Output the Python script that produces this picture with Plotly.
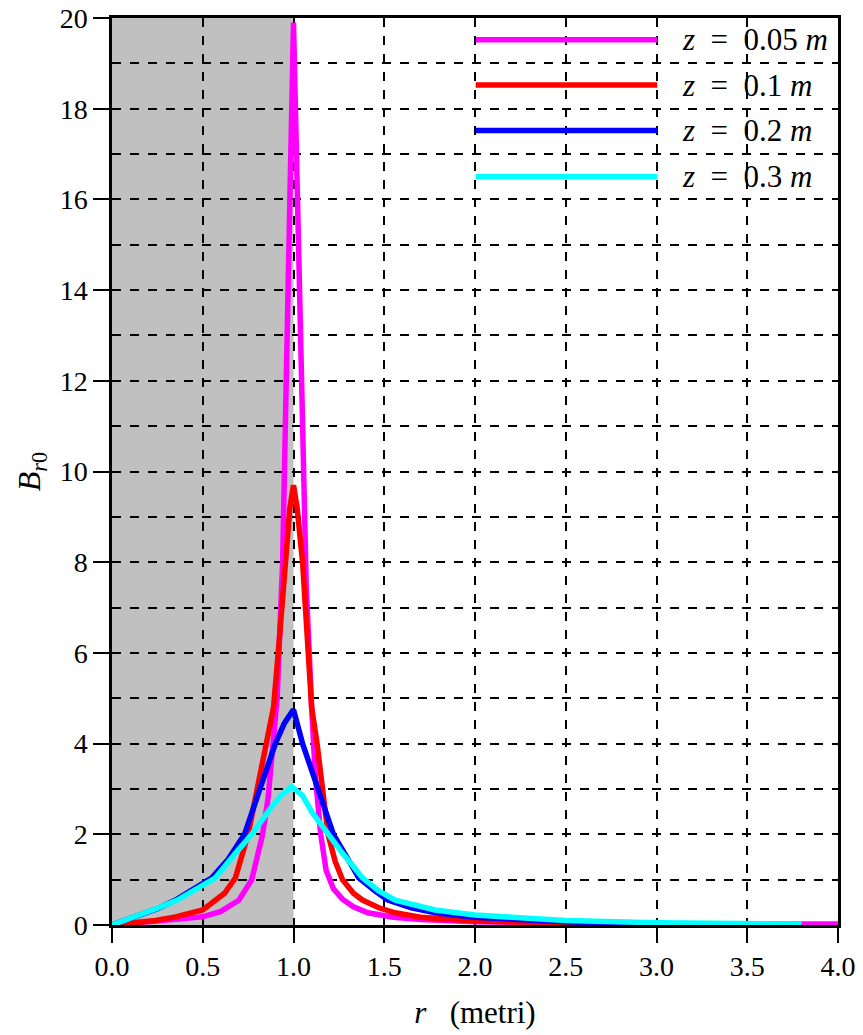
import plotly.graph_objects as go

# ---- data ----
r_m = [0, 0.1, 0.2, 0.3, 0.4, 0.5, 0.6, 0.7, 0.77, 0.83, 0.86, 0.88, 0.91, 0.94, 0.963, 0.98, 1.0,
       1.02, 1.04, 1.07, 1.10, 1.12, 1.15, 1.18, 1.22, 1.27, 1.33, 1.41, 1.55, 1.7, 2.0, 2.5, 3.0, 3.5, 4.0]
b_m = [0, 0.03, 0.06, 0.1, 0.13, 0.18, 0.3, 0.55, 1.0, 2.0, 2.8, 3.8, 5.0, 8.0, 12.0, 16.0, 19.9,
       16.0, 12.0, 7.5, 4.8, 3.3, 2.0, 1.2, 0.8, 0.57, 0.4, 0.27, 0.17, 0.12, 0.07, 0.04, 0.03, 0.02, 0.02]

r_r = [0, 0.1, 0.24, 0.35, 0.5, 0.62, 0.68, 0.75, 0.80, 0.855, 0.89, 0.92, 0.953, 0.98, 1.0,
       1.02, 1.05, 1.08, 1.10, 1.13, 1.16, 1.19, 1.23, 1.27, 1.33, 1.38, 1.47, 1.56, 1.7, 1.87, 2.0, 2.4, 2.8]
b_r = [0, 0.04, 0.1, 0.18, 0.33, 0.7, 1.04, 2.0, 3.0, 4.0, 4.8, 6.2, 8.0, 9.2, 9.7,
       9.2, 8.0, 6.0, 4.8, 4.0, 3.0, 2.0, 1.4, 1.0, 0.7, 0.55, 0.38, 0.27, 0.17, 0.12, 0.09, 0.05, 0.03]

r_b = [0, 0.13, 0.25, 0.35, 0.45, 0.55, 0.64, 0.73, 0.815, 0.9, 0.95, 1.0,
       1.05, 1.1, 1.135, 1.22, 1.3, 1.36, 1.45, 1.52, 1.65, 1.78, 2.0, 2.25, 2.5, 2.75, 3.05]
b_b = [0, 0.18, 0.36, 0.55, 0.78, 1.04, 1.45, 2.0, 3.0, 4.0, 4.45, 4.75,
       4.0, 3.4, 3.0, 2.0, 1.45, 1.04, 0.75, 0.55, 0.38, 0.27, 0.17, 0.11, 0.07, 0.05, 0.04]

r_c = [0, 0.13, 0.25, 0.36, 0.46, 0.57, 0.68, 0.77, 0.86, 0.93, 0.99,
       1.05, 1.10, 1.19, 1.27, 1.38, 1.47, 1.56, 1.78, 2.0, 2.25, 2.5, 3.0, 3.5, 3.8]
b_c = [0, 0.18, 0.37, 0.55, 0.78, 1.04, 1.58, 2.0, 2.5, 2.85, 3.05,
       2.85, 2.5, 2.0, 1.58, 1.04, 0.75, 0.55, 0.33, 0.22, 0.15, 0.1, 0.05, 0.03, 0.02]

series = [
    ("<i>z</i>&nbsp;&nbsp;=&nbsp;&nbsp;0.05&nbsp;<i>m</i>", r_m, b_m, "#ff00ff"),
    ("<i>z</i>&nbsp;&nbsp;=&nbsp;&nbsp;0.1&nbsp;<i>m</i>", r_r, b_r, "#ff0000"),
    ("<i>z</i>&nbsp;&nbsp;=&nbsp;&nbsp;0.2&nbsp;<i>m</i>", r_b, b_b, "#0000ff"),
    ("<i>z</i>&nbsp;&nbsp;=&nbsp;&nbsp;0.3&nbsp;<i>m</i>", r_c, b_c, "#00ffff"),
]

x_ticks = [0.0, 0.5, 1.0, 1.5, 2.0, 2.5, 3.0, 3.5, 4.0]
x_labels = ["0.0", "0.5", "1.0", "1.5", "2.0", "2.5", "3.0", "3.5", "4.0"]
y_ticks = [0, 2, 4, 6, 8, 10, 12, 14, 16, 18, 20]

FONT = "Liberation Serif"

fig = go.Figure()
for name, xs, ys, col in series:
    fig.add_trace(go.Scatter(x=xs, y=ys, mode="lines", name=name,
                             line=dict(color=col, width=5.5), showlegend=False))

# grey shaded region r in [0, 1]
fig.add_shape(type="rect", xref="x", yref="y", x0=0, x1=1, y0=0, y1=20,
              fillcolor="#c0c0c0", line=dict(width=0), layer="below")

# custom legend (line samples + labels)
leg_y = [0.976, 0.926, 0.876, 0.825]
for (name, xs, ys, col), yy in zip(series, leg_y):
    fig.add_shape(type="line", xref="paper", yref="paper", x0=0.501, x1=0.751,
                  y0=yy, y1=yy, line=dict(color=col, width=5.5))
    fig.add_annotation(xref="paper", yref="paper", x=0.782, y=yy, text=name,
                       showarrow=False, xanchor="left", yanchor="middle",
                       font=dict(family=FONT, size=31, color="black"))

grid = dict(showgrid=True, gridcolor="black", gridwidth=2, griddash="dash")
fig.update_xaxes(range=[0, 4], tickvals=x_ticks, ticktext=x_labels, automargin=False,
                 ticks="outside", ticklen=15, tickwidth=2, tickcolor="black",
                 showline=True, linewidth=2.5, linecolor="black", mirror=True,
                 zeroline=False, tickfont=dict(family=FONT, size=28, color="black"),
                 title=dict(text="<i>r</i>&nbsp;&nbsp;&nbsp;(metri)",
                            font=dict(family=FONT, size=31, color="black"), standoff=20),
                 **grid)
fig.update_yaxes(range=[0, 20], tickvals=y_ticks, automargin=False,
                 ticks="outside", ticklen=16, tickwidth=2, tickcolor="black",
                 showline=True, linewidth=2.5, linecolor="black", mirror=True,
                 zeroline=False, tickfont=dict(family=FONT, size=28, color="black"),
                 minor=dict(dtick=1, showgrid=True, gridcolor="black", gridwidth=2,
                            griddash="dash", ticks=""),
                 title=dict(text="<i>B</i><sub><i>r</i>0</sub>",
                            font=dict(family=FONT, size=32, color="black"), standoff=10),
                 **grid)

fig.update_layout(width=863, height=1035, margin=dict(l=112, r=25, t=18, b=110),
                  plot_bgcolor="white", paper_bgcolor="white", showlegend=False,
                  font=dict(family=FONT, color="black"))

fig.write_html("out.html")
